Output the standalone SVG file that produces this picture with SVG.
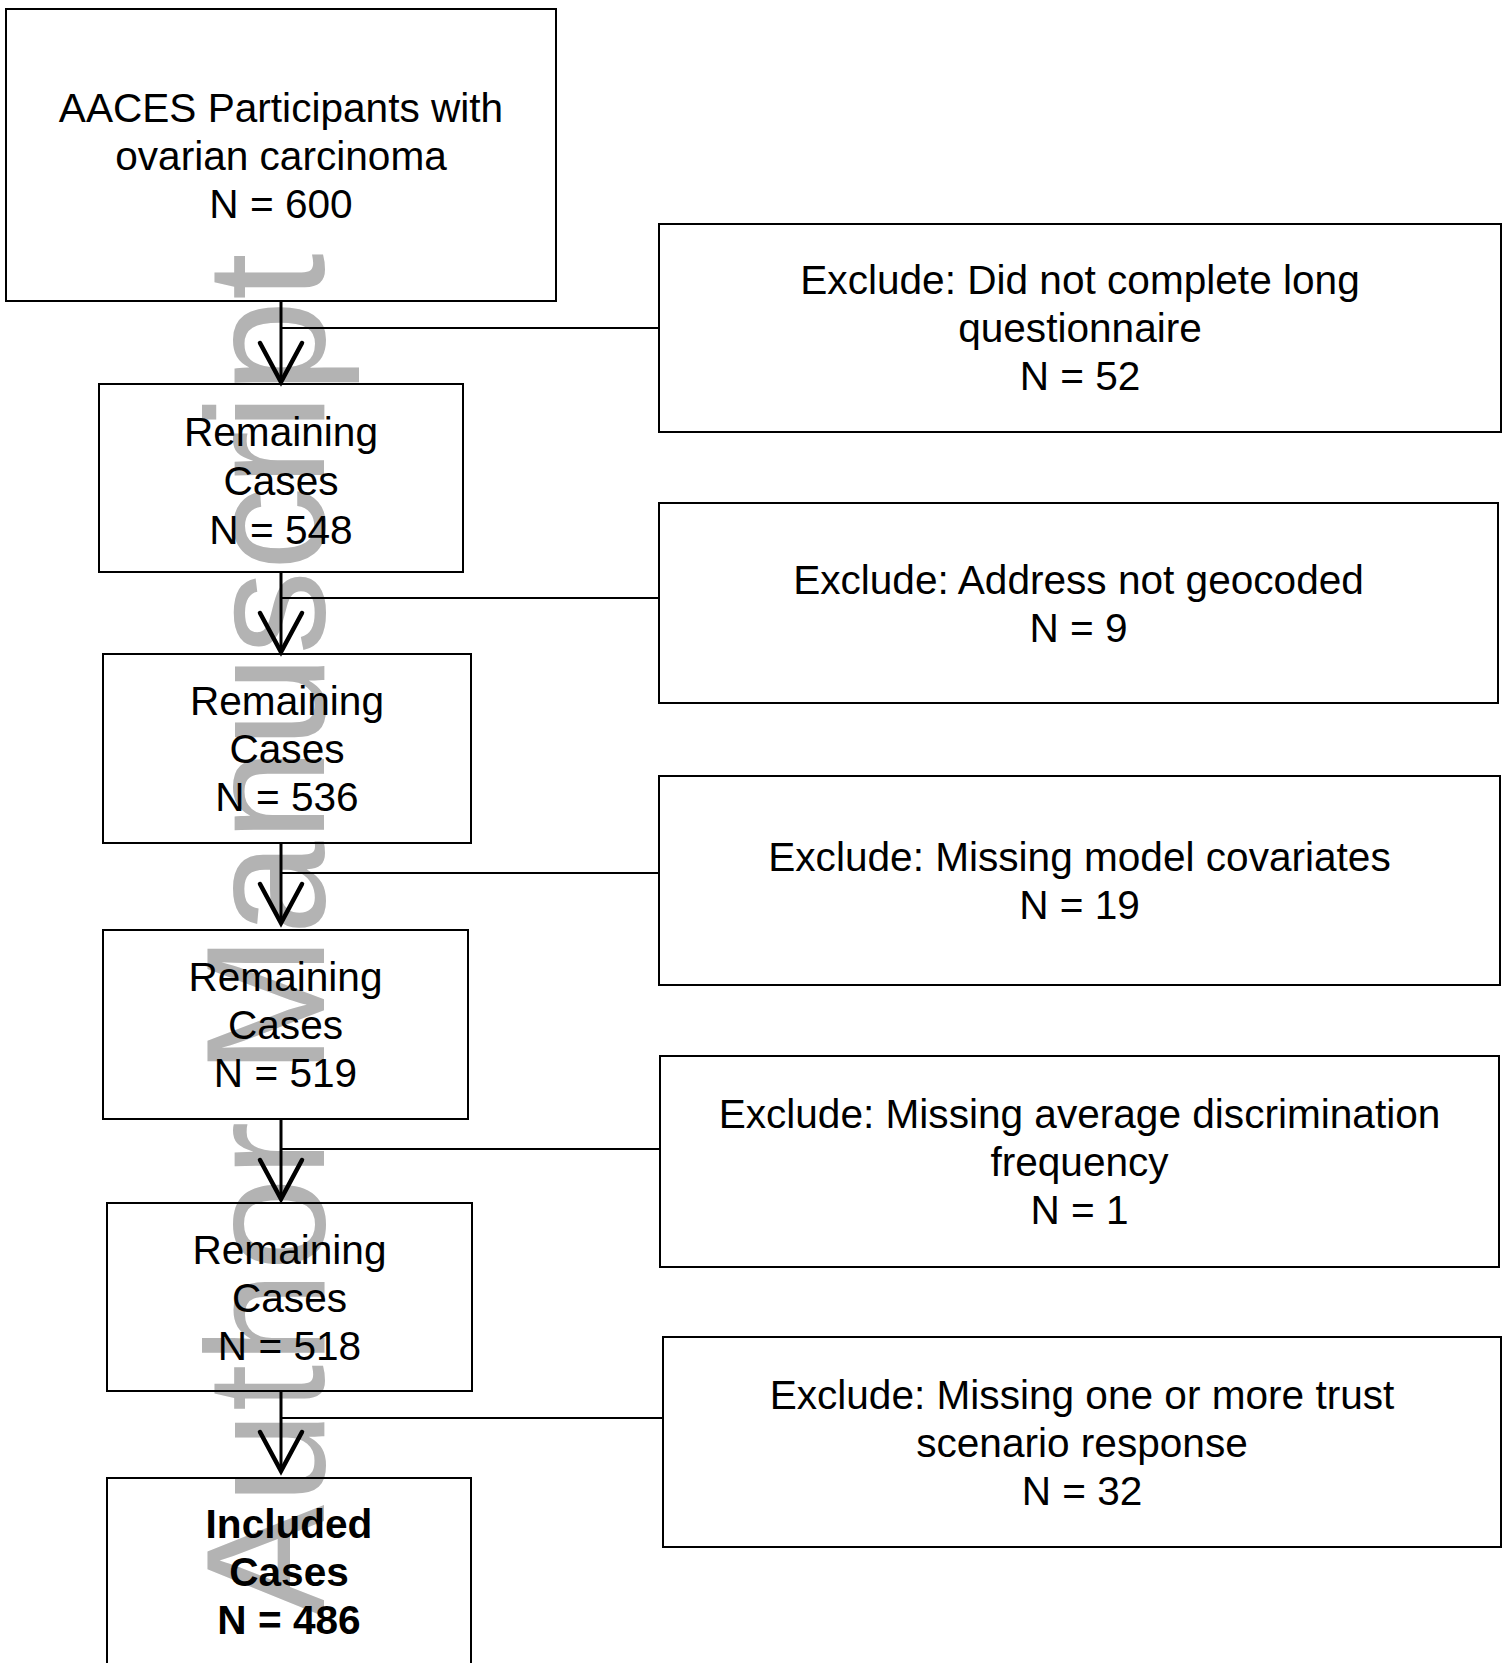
<svg xmlns="http://www.w3.org/2000/svg" width="1503" height="1663" viewBox="0 0 1503 1663">
  <style>
    .box { fill: none; stroke: #000; stroke-width: 2; }
    .lbl { font-family: "Liberation Sans", Arial, sans-serif; font-size: 40.6px; fill: #000; text-anchor: middle; }
    .bold { font-weight: bold; }
    .flow { stroke: #000; stroke-width: 3; fill: none; }
    .branch { stroke: #000; stroke-width: 2; fill: none; }
    .wm { font-family: "Liberation Sans", Arial, sans-serif; font-size: 168px; fill: #b3b3b3; text-anchor: middle; }
  </style>
  <defs>
    <marker id="vhead" markerUnits="userSpaceOnUse" markerWidth="60" markerHeight="60" refX="40" refY="22" orient="auto" overflow="visible">
      <path d="M1,1 L40,22 L1,43" fill="none" stroke="#000" stroke-width="4.5" stroke-linecap="round" stroke-linejoin="miter"/>
    </marker>
  </defs>
  <rect x="0" y="0" width="1503" height="1663" fill="#fff"/>

  <text class="wm" transform="translate(324,935) rotate(-90)">Author Manuscript</text>

  <g id="connectors">
    <line class="branch" x1="281" y1="328" x2="659" y2="328"/>
    <line class="branch" x1="281" y1="598" x2="659" y2="598"/>
    <line class="branch" x1="281" y1="873" x2="659" y2="873"/>
    <line class="branch" x1="281" y1="1149" x2="660" y2="1149"/>
    <line class="branch" x1="281" y1="1418" x2="663" y2="1418"/>
    <line class="flow" x1="281" y1="301" x2="281" y2="382" marker-end="url(#vhead)"/>
    <line class="flow" x1="281" y1="572" x2="281" y2="652" marker-end="url(#vhead)"/>
    <line class="flow" x1="281" y1="843" x2="281" y2="923" marker-end="url(#vhead)"/>
    <line class="flow" x1="281" y1="1119" x2="281" y2="1199" marker-end="url(#vhead)"/>
    <line class="flow" x1="281" y1="1391" x2="281" y2="1471" marker-end="url(#vhead)"/>
  </g>

  <g id="n-start">
    <rect class="box" x="6" y="9" width="550" height="292"/>
    <text class="lbl"><tspan x="281" y="122">AACES Participants with</tspan><tspan x="281" y="170">ovarian carcinoma</tspan><tspan x="281" y="218">N = 600</tspan></text>
  </g>
  <g id="n-r548">
    <rect class="box" x="99" y="384" width="364" height="188"/>
    <text class="lbl"><tspan x="281" y="446">Remaining</tspan><tspan x="281" y="495">Cases</tspan><tspan x="281" y="544">N = 548</tspan></text>
  </g>
  <g id="n-r536">
    <rect class="box" x="103" y="654" width="368" height="189"/>
    <text class="lbl"><tspan x="287" y="715">Remaining</tspan><tspan x="287" y="763">Cases</tspan><tspan x="287" y="811">N = 536</tspan></text>
  </g>
  <g id="n-r519">
    <rect class="box" x="103" y="930" width="365" height="189"/>
    <text class="lbl"><tspan x="285.5" y="991">Remaining</tspan><tspan x="285.5" y="1039">Cases</tspan><tspan x="285.5" y="1087">N = 519</tspan></text>
  </g>
  <g id="n-r518">
    <rect class="box" x="107" y="1203" width="365" height="188"/>
    <text class="lbl"><tspan x="289.5" y="1264">Remaining</tspan><tspan x="289.5" y="1312">Cases</tspan><tspan x="289.5" y="1360">N = 518</tspan></text>
  </g>
  <g id="n-included">
    <rect class="box" x="107" y="1478" width="364" height="200"/>
    <text class="lbl bold"><tspan x="289" y="1538">Included</tspan><tspan x="289" y="1586">Cases</tspan><tspan x="289" y="1634">N = 486</tspan></text>
  </g>

  <g id="x-questionnaire">
    <rect class="box" x="659" y="224" width="842" height="208"/>
    <text class="lbl"><tspan x="1080" y="294">Exclude: Did not complete long</tspan><tspan x="1080" y="342">questionnaire</tspan><tspan x="1080" y="390">N = 52</tspan></text>
  </g>
  <g id="x-geocode">
    <rect class="box" x="659" y="503" width="839" height="200"/>
    <text class="lbl"><tspan x="1078.5" y="594">Exclude: Address not geocoded</tspan><tspan x="1078.5" y="642">N = 9</tspan></text>
  </g>
  <g id="x-covariates">
    <rect class="box" x="659" y="776" width="841" height="209"/>
    <text class="lbl"><tspan x="1079.5" y="871">Exclude: Missing model covariates</tspan><tspan x="1079.5" y="919">N = 19</tspan></text>
  </g>
  <g id="x-discrimination">
    <rect class="box" x="660" y="1056" width="839" height="211"/>
    <text class="lbl"><tspan x="1079.5" y="1128">Exclude: Missing average discrimination</tspan><tspan x="1079.5" y="1176">frequency</tspan><tspan x="1079.5" y="1224">N = 1</tspan></text>
  </g>
  <g id="x-trust">
    <rect class="box" x="663" y="1337" width="838" height="210"/>
    <text class="lbl"><tspan x="1082" y="1409">Exclude: Missing one or more trust</tspan><tspan x="1082" y="1457">scenario response</tspan><tspan x="1082" y="1505">N = 32</tspan></text>
  </g>
</svg>
